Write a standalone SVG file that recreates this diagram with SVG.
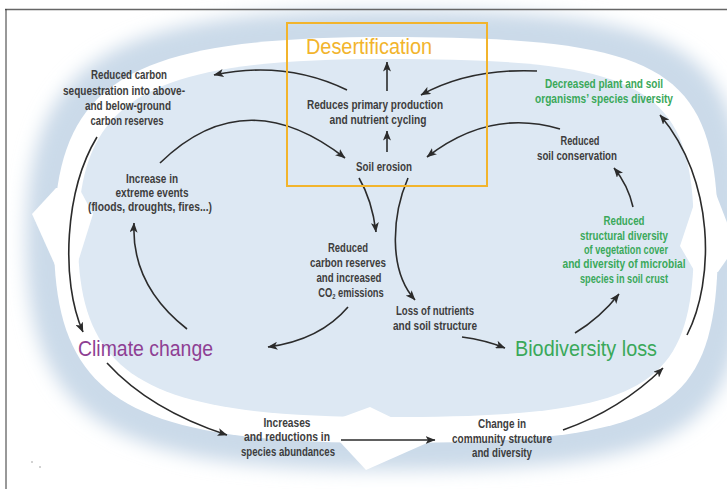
<svg xmlns="http://www.w3.org/2000/svg" width="727" height="489" viewBox="0 0 727 489">
  <defs>
    <filter id="soft" x="-10%" y="-10%" width="120%" height="120%">
      <feGaussianBlur stdDeviation="9"/>
    </filter>
    <marker id="head" viewBox="0 0 10 8" refX="9.5" refY="4" markerWidth="10" markerHeight="8" markerUnits="userSpaceOnUse" orient="auto">
      <path d="M0,0 L10,4 L0,8 L2.5,4 Z" fill="#2b2b2b"/>
    </marker>
    <style>
      .t { font-family: "Liberation Sans", Arial, sans-serif; font-size: 13px; font-weight: bold; fill: #3d3d3d; text-anchor: middle; }
      .g { fill: #3aa85a; }
      .big { font-size: 22px; font-weight: normal; }
      .arrow { fill: none; stroke: #2b2b2b; stroke-width: 1.6; marker-end: url(#head); }
    </style>
  </defs>

  <rect width="727" height="489" fill="#ffffff"/>

  <!-- backdrop: soft halo, white circulation band with arrowheads, pale core -->
  <g id="backdrop">
    <path filter="url(#soft)" fill="#cbdae9" d="M386,10 C692,10 746,44.5 746,240 C746,435.5 692,470 386,470 C105.2,470 26,419.4 26,240 C26,60.6 105.2,10 386,10 Z"/>
    <path fill="#ffffff" d="M386,37 C668.2,37 718,67.45 718,240 C718,412.55 668.2,443 386,443 C127,443 54,398.3 54,240 C54,81.7 127,37 386,37 Z"/>
    <path fill="#dde8f3" d="M386,59 C647.8,59 694,85.85 694,238 C694,390.15 647.8,417 386,417 C145.8,417 78,377.6 78,238 C78,98.4 145.8,59 386,59 Z"/>
    <polygon fill="#ffffff" points="56,188 32,214 68,294 93,214 79,188"/>
    <polygon fill="#ffffff" points="695,272 680,246 706,168 736,246 718,272"/>
    <polygon fill="#ffffff" points="340,418 370,407 436,439 366,470 340,442"/>
    <circle cx="32" cy="462" r="0.8" fill="#999"/>
    <circle cx="40" cy="467" r="0.8" fill="#999"/>
  </g>

  <!-- page frame -->
  <g id="frame">
    <line x1="5" y1="9.5" x2="727" y2="9.5" stroke="#666" stroke-width="1.5"/>
    <line x1="6" y1="9" x2="6" y2="489" stroke="#333" stroke-width="1"/>
  </g>

  <!-- connectors -->
  <g id="connectors">
    <path class="arrow" d="M347,90 Q285,60 214,75"/>
    <path class="arrow" d="M387,91 L387,62"/>
    <path class="arrow" d="M537,71 Q470,68 421,95"/>
    <path class="arrow" d="M160,163 Q245,80 345,158"/>
    <path class="arrow" d="M387,152 L387,131"/>
    <path class="arrow" d="M560,129 Q490,108 427,157"/>
    <path class="arrow" d="M359,178 Q372,200 376,232"/>
    <path class="arrow" d="M408,178 C392,215 388,270 415,300"/>
    <path class="arrow" d="M348,307 Q320,340 268,347"/>
    <path class="arrow" d="M462,337 Q485,340 505,348"/>
    <path class="arrow" d="M575,333 Q600,318 619,294"/>
    <path class="arrow" d="M633,207 Q628,185 614,168"/>
    <path class="arrow" d="M187,329 C150,300 132,265 134,223"/>
    <path class="arrow" d="M97,137 C65,190 60,280 83,332"/>
    <path class="arrow" d="M107,363 Q150,410 227,435"/>
    <path class="arrow" d="M341,440 L435,440"/>
    <path class="arrow" d="M563,430 Q620,410 663,368"/>
    <path class="arrow" d="M687,335 C715,280 715,180 660,115"/>
  </g>

  <!-- desertification box -->
  <g id="desertification">
    <rect x="287" y="23" width="200" height="163" fill="none" stroke="#f2b42c" stroke-width="2"/>
    <text class="t big" x="369" y="54" style="fill:#f2b42c" textLength="126" lengthAdjust="spacingAndGlyphs">Desertification</text>
  </g>

  <g id="primary-production">
    <text class="t" x="375" y="109" textLength="136" lengthAdjust="spacingAndGlyphs">Reduces primary production</text>
    <text class="t" x="378" y="124" textLength="97" lengthAdjust="spacingAndGlyphs">and nutrient cycling</text>
  </g>

  <g id="soil-erosion">
    <text class="t" x="384" y="171" textLength="56" lengthAdjust="spacingAndGlyphs">Soil erosion</text>
  </g>

  <g id="carbon-sequestration">
    <text class="t" x="129" y="79" textLength="76" lengthAdjust="spacingAndGlyphs">Reduced carbon</text>
    <text class="t" x="124" y="95" textLength="122" lengthAdjust="spacingAndGlyphs">sequestration into above-</text>
    <text class="t" x="128" y="110" textLength="86" lengthAdjust="spacingAndGlyphs">and below-ground</text>
    <text class="t" x="127" y="125" textLength="73" lengthAdjust="spacingAndGlyphs">carbon reserves</text>
  </g>

  <g id="extreme-events">
    <text class="t" x="152" y="183" textLength="52" lengthAdjust="spacingAndGlyphs">Increase in</text>
    <text class="t" x="152" y="197" textLength="73" lengthAdjust="spacingAndGlyphs">extreme events</text>
    <text class="t" x="150" y="211" textLength="124" lengthAdjust="spacingAndGlyphs">(floods, droughts, fires...)</text>
  </g>

  <g id="species-diversity">
    <text class="t g" x="604" y="88" textLength="118" lengthAdjust="spacingAndGlyphs">Decreased plant and soil</text>
    <text class="t g" x="604" y="103" textLength="138" lengthAdjust="spacingAndGlyphs">organisms’ species diversity</text>
  </g>

  <g id="soil-conservation">
    <text class="t" x="580" y="145" textLength="39" lengthAdjust="spacingAndGlyphs">Reduced</text>
    <text class="t" x="577" y="160" textLength="80" lengthAdjust="spacingAndGlyphs">soil conservation</text>
  </g>

  <g id="structural-diversity">
    <text class="t g" x="624" y="225" textLength="41" lengthAdjust="spacingAndGlyphs">Reduced</text>
    <text class="t g" x="624" y="240" textLength="88" lengthAdjust="spacingAndGlyphs">structural diversity</text>
    <text class="t g" x="626" y="254" textLength="84" lengthAdjust="spacingAndGlyphs">of vegetation cover</text>
    <text class="t g" x="624" y="268" textLength="123" lengthAdjust="spacingAndGlyphs">and diversity of microbial</text>
    <text class="t g" x="624" y="283" textLength="88" lengthAdjust="spacingAndGlyphs">species in soil crust</text>
  </g>

  <g id="carbon-reserves">
    <text class="t" x="348" y="252" textLength="40" lengthAdjust="spacingAndGlyphs">Reduced</text>
    <text class="t" x="348" y="267" textLength="76" lengthAdjust="spacingAndGlyphs">carbon reserves</text>
    <text class="t" x="349" y="282" textLength="65" lengthAdjust="spacingAndGlyphs">and increased</text>
    <text class="t" transform="translate(351,297) scale(0.72,1)">CO<tspan font-size="8" dy="2">2</tspan><tspan dy="-2"> emissions</tspan></text>
  </g>

  <g id="nutrient-loss">
    <text class="t" x="435" y="315" textLength="78" lengthAdjust="spacingAndGlyphs">Loss of nutrients</text>
    <text class="t" x="435" y="330" textLength="84" lengthAdjust="spacingAndGlyphs">and soil structure</text>
  </g>

  <g id="climate-change">
    <text class="t big" x="145.5" y="356" style="fill:#8e3f93" textLength="135" lengthAdjust="spacingAndGlyphs">Climate change</text>
  </g>

  <g id="biodiversity-loss">
    <text class="t big" x="586" y="356" style="fill:#3aa85a" textLength="142" lengthAdjust="spacingAndGlyphs">Biodiversity loss</text>
  </g>

  <g id="species-abundances">
    <text class="t" x="287" y="427" textLength="47" lengthAdjust="spacingAndGlyphs">Increases</text>
    <text class="t" x="287" y="441" textLength="86" lengthAdjust="spacingAndGlyphs">and reductions in</text>
    <text class="t" x="288" y="456" textLength="94" lengthAdjust="spacingAndGlyphs">species abundances</text>
  </g>

  <g id="community-structure">
    <text class="t" x="502" y="428" textLength="48" lengthAdjust="spacingAndGlyphs">Change in</text>
    <text class="t" x="502" y="443" textLength="100" lengthAdjust="spacingAndGlyphs">community structure</text>
    <text class="t" x="502" y="457" textLength="60" lengthAdjust="spacingAndGlyphs">and diversity</text>
  </g>
</svg>
